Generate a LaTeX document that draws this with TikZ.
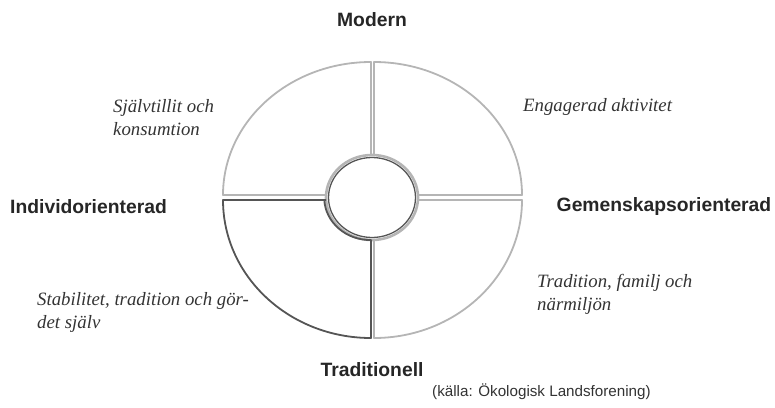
\documentclass[tikz,border=0pt]{standalone}
\usepackage{fontspec}
\setmainfont{Liberation Serif}
\newfontfamily\labelfont{Liberation Sans}
\definecolor{lightq}{HTML}{B5B5B5}
\definecolor{darkq}{HTML}{555555}
\tikzset{
  quad/.style={draw=lightq, line width=1.8pt, line join=round},
  darkquad/.style={draw=darkq, line width=1.8pt, line join=round},
  axislabel/.style={font=\labelfont\bfseries\fontsize{19.3}{23}\selectfont, text=black!85, inner sep=0pt},
  desc/.style={font=\itshape\fontsize{18.8}{23.5}\selectfont, text=black!80, align=left, anchor=west, inner sep=0pt},
  source/.style={font=\labelfont\fontsize{15.2}{18}\selectfont, text=black!80, anchor=west, inner sep=0pt}
}
\begin{document}
\begin{tikzpicture}[x=1pt,y=1pt]
\useasboundingbox (0,0) rectangle (775,-407);
% quadrants
\draw[quad] (371,-155) -- (371,-62) arc[start angle=90,end angle=180,x radius=148,y radius=133] -- (326,-195);
\draw[quad] (374,-155) -- (374,-62) arc[start angle=90,end angle=0,x radius=148,y radius=133] -- (418,-195);
\draw[quad] (418,-200) -- (522,-200) arc[start angle=0,end angle=-90,x radius=148,y radius=138] -- (374,-240);
% inner ring
\draw[draw=lightq, line width=2.6pt] (372,-197.5) ellipse[x radius=46, y radius=42.5];
\draw[darkquad] (326,-200) -- (223,-200) arc[start angle=180,end angle=270,x radius=148,y radius=138] -- (371,-240)
  arc[start angle=-89,end angle=-177,x radius=46,y radius=42.5];
\draw[draw=darkq, line width=1.3pt] (372,-197.5) ellipse[x radius=43.5, y radius=40];
% labels
\node[axislabel] (modern) at (372,-20) {Modern};
\node[axislabel] (indiv) at (88.5,-207) {Individorienterad};
\node[axislabel] (gemen) at (664,-207) {Gemenskapsorienterad};
\node[axislabel] (trad) at (372,-370) {Traditionell};
\node[desc] (sjalv) at (113,-117.5) {Självtillit och\\konsumtion};
\node[desc] (eng) at (523,-107) {Engagerad aktivitet};
\node[desc] (tfam) at (537,-294.5) {Tradition, familj och\\närmiljön};
\node[desc] (stab) at (37,-312.5) {Stabilitet, tradition och gör-\\det själv};
\node[source] (src) at (432,-392) {(källa: Ökologisk Landsforening)};
\end{tikzpicture}
\end{document}
